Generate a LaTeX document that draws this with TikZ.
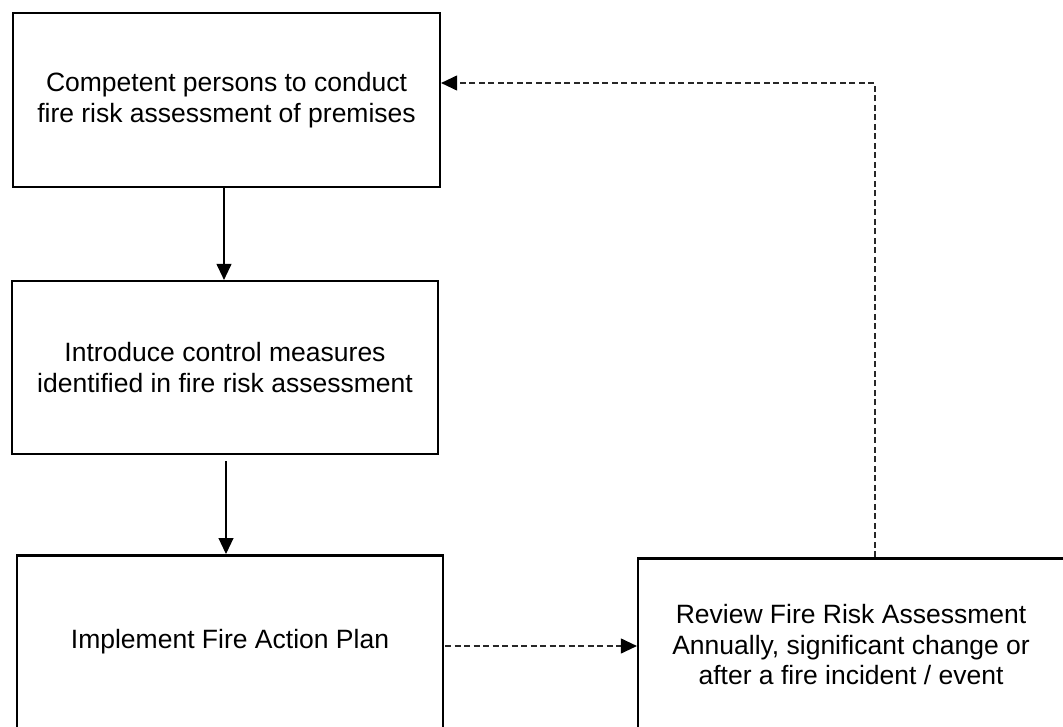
\documentclass[tikz,border=0pt]{standalone}
\usepackage{fontspec}
\setmainfont{Liberation Sans}
\usetikzlibrary{arrows.meta}
\begin{document}
\begin{tikzpicture}[x=1pt,y=-1pt,
  box/.style={draw=black,line width=2.2pt,fill=white,align=center,inner sep=0pt,
    font=\fontsize{26.5}{30.5}\selectfont},
  solidarrow/.style={line width=1.1pt,-{Triangle[length=16pt,width=15pt]}},
  dasharrow/.style={line width=1.1pt,draw={rgb,255:red,40;green,40;blue,40},dash pattern=on 6pt off 3.5pt,
    -{Triangle[length=16pt,width=15pt,fill=black,color=black]}}]
\useasboundingbox (0,0) rectangle (1063,726);
\node[box,minimum width=427pt,minimum height=174pt] (b1) at (226.5,100) {Competent persons to conduct\\fire risk assessment of premises};
\node[box,minimum width=426pt,minimum height=173pt] (b2) at (225,367.5) {Introduce control measures\\identified in fire risk assessment};
\node[box,minimum width=426pt,minimum height=173pt] (b3) at (230,642) {Implement Fire Action Plan};
\node[box,minimum width=426pt,minimum height=173pt] (b4) at (851,645) {Review Fire Risk Assessment\\Annually, significant change or\\after a fire incident / event};
\coordinate (a1s) at (224,187);
\coordinate (a2s) at (226,461);
\coordinate (a2e) at (226,554);
\coordinate (d1s) at (445,646);
\coordinate (d2s) at (875,557);
\coordinate (d2c) at (875,83);
\draw[solidarrow] (a1s) -- (a1s |- b2.north);
\draw[solidarrow] (a2s) -- (a2e);
\draw[dasharrow] (d1s) -- (d1s -| b4.west);
\draw[dasharrow] (d2s) -- (d2c) -- (d2c -| b1.east);
\end{tikzpicture}
\end{document}
